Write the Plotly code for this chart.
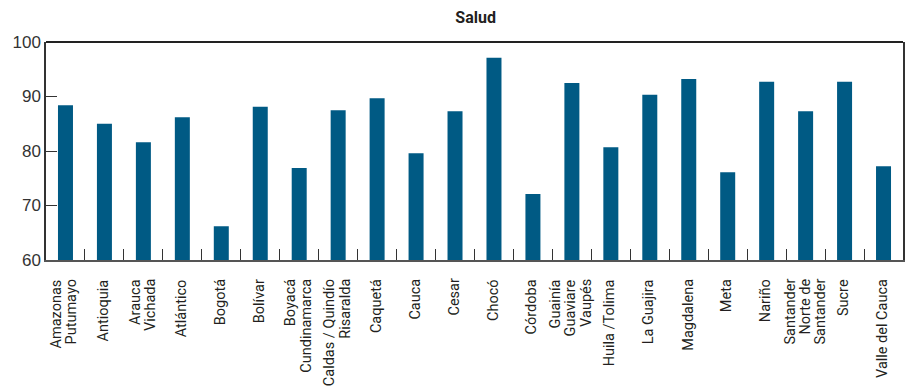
import plotly.graph_objects as go

# Departamentos (label lines) and health index values
departamentos = [
    ["Amazonas", "Putumayo"],
    ["Antioquia"],
    ["Arauca", "Vichada"],
    ["Atlántico"],
    ["Bogotá"],
    ["Bolívar"],
    ["Boyacá", "Cundinamarca"],
    ["Caldas / Quindío", "Risaralda"],
    ["Caquetá"],
    ["Cauca"],
    ["Cesar"],
    ["Chocó"],
    ["Córdoba"],
    ["Guainía", "Guaviare", "Vaupés"],
    ["Huila /Tolima"],
    ["La Guajira"],
    ["Magdalena"],
    ["Meta"],
    ["Nariño"],
    ["Santander", "Norte de", "Santander"],
    ["Sucre"],
    ["Valle del Cauca"],
]
salud = [88.4, 85.0, 81.6, 86.2, 66.2, 88.1, 76.9, 87.5, 89.7, 79.6, 87.3,
         97.1, 72.1, 92.5, 80.7, 90.3, 93.2, 76.1, 92.7, 87.3, 92.7, 77.2]
y_ticks = [60, 70, 80, 90, 100]

categorias = [" ".join(l) for l in departamentos]

LABEL_FONT = "Roboto, Liberation Sans, Arial, sans-serif"
TEXT = "#231f20"

fig = go.Figure(
    go.Bar(x=categorias, y=salud, marker=dict(color="#005a84", line=dict(width=0)))
)

# Category labels: one rotated annotation per line, set close together
annotations = []
for cat, lines in zip(categorias, departamentos):
    n = len(lines)
    for i, line in enumerate(lines):
        annotations.append(dict(
            x=cat, xref="x", y=0, yref="paper",
            text=line, textangle=-90, showarrow=False,
            xanchor="center", yanchor="top",
            xshift=(i - (n - 1) / 2) * 15 - 1, yshift=-17,
            font=dict(family=LABEL_FONT, size=14.5, color=TEXT),
        ))

fig.update_layout(
    width=906, height=386,
    margin=dict(l=46, r=1, t=42, b=126),
    paper_bgcolor="white", plot_bgcolor="white",
    bargap=0.615,
    showlegend=False,
    title=dict(text="<b>Salud</b>", x=0.525, xanchor="center", y=0.955, yanchor="middle",
               font=dict(family=LABEL_FONT, size=16, color=TEXT)),
    annotations=annotations,
    shapes=[dict(type="line", xref="paper", yref="paper", x0=0, x1=1, y0=1, y1=1,
                 line=dict(color="#222222", width=2))],
    xaxis=dict(
        type="category", showticklabels=False,
        ticks="inside", tickson="boundaries", ticklen=11, tickwidth=1.3,
        tickcolor="#333333",
        showline=True, linecolor="#555555", linewidth=2, showgrid=False,
    ),
    yaxis=dict(
        range=[60, 100], tickvals=y_ticks,
        ticks="inside", ticklen=11, tickwidth=1.3, tickcolor="#333333",
        showline=True, linecolor="#333333", linewidth=1.5, mirror=True,
        showgrid=False, zeroline=False,
        tickfont=dict(family="Liberation Sans, Arial, sans-serif", size=17, color="#333333"),
    ),
)

fig.write_html("out.html")
